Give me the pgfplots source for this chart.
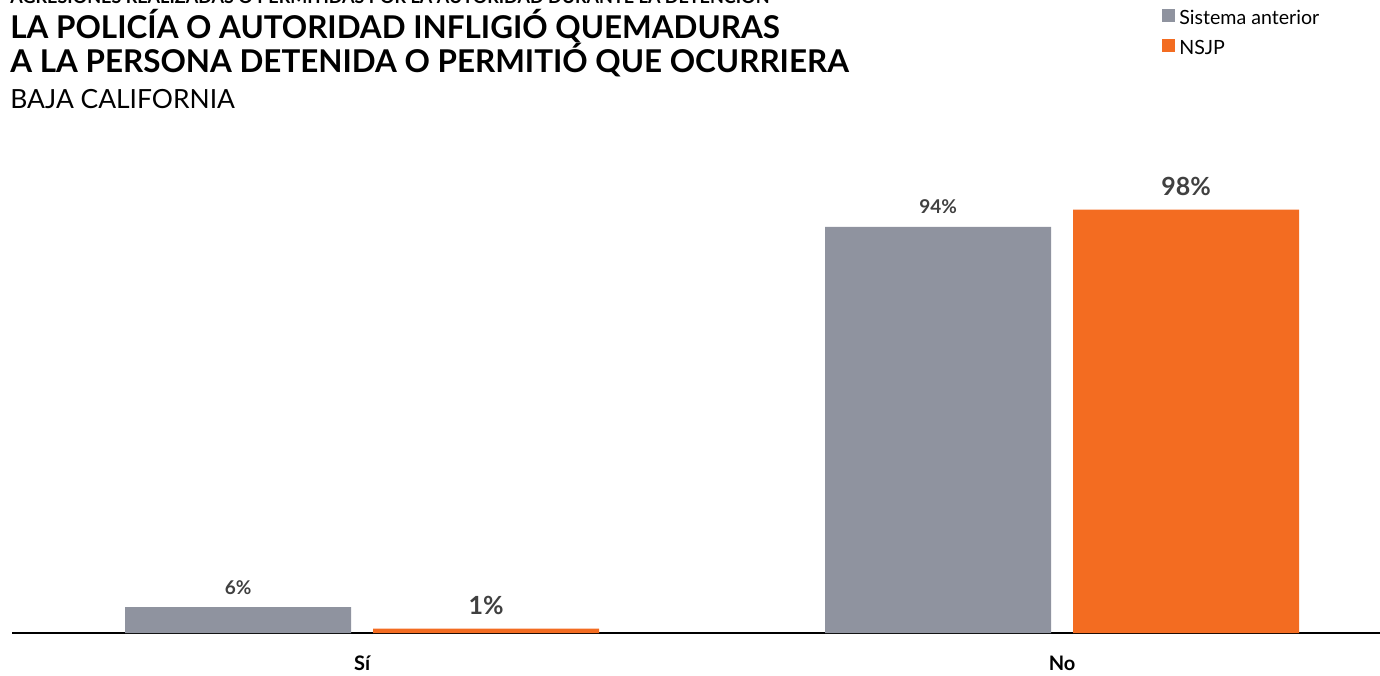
\documentclass[border=0pt]{standalone}
\usepackage{pgfplots}
\pgfplotsset{compat=1.18}
\usepackage{fontspec}
\setmainfont{Lato}
\definecolor{grisAnt}{HTML}{8F939F}
\definecolor{naranja}{HTML}{F36C21}
\definecolor{etiq}{HTML}{404040}

\begin{document}
\begin{tikzpicture}
\useasboundingbox (0,0) rectangle (690pt,337.5pt);
\clip (0,0) rectangle (690pt,337.5pt);

% titles (1px = 0.5pt)
\node[anchor=base west, inner sep=0, font=\fontsize{9}{10}\selectfont\bfseries]
  at (5pt,335.5pt) {AGRESIONES REALIZADAS O PERMITIDAS POR LA AUTORIDAD DURANTE LA DETENCIÓN};
\node[anchor=base west, inner sep=0, font=\fontsize{15.7}{18}\selectfont\bfseries]
  at (5pt,318.25pt) {LA POLICÍA O AUTORIDAD INFLIGIÓ QUEMADURAS};
\node[anchor=base west, inner sep=0, font=\fontsize{15.7}{18}\selectfont\bfseries]
  at (5pt,301pt) {A LA PERSONA DETENIDA O PERMITIÓ QUE OCURRIERA};
\node[anchor=base west, inner sep=0, font=\fontsize{13.2}{15}\selectfont]
  at (5pt,283pt) {BAJA CALIFORNIA};

\begin{axis}[
  at={(6pt,21pt)}, anchor=south west,
  scale only axis,
  width=684pt, height=216pt,
  xmin=-0.5, xmax=1.454,
  ymin=0, ymax=100,
  axis x line=bottom,
  axis y line=none,
  x axis line style={-, line width=1pt, black},
  xtick={0,1},
  xticklabels={Sí, No},
  major tick length=0pt,
  xticklabel style={font=\fontsize{10}{12}\selectfont\bfseries, black, yshift=-8pt},
  ytick=\empty,
  /pgf/number format/assume math mode=true,
  ybar,
  bar width=113pt,
  clip=false,
  legend style={at={(0.8406,1.4514)}, anchor=north west, draw=none, fill=none,
                font=\fontsize{9.8}{12}\selectfont, inner sep=0pt,
                legend cell align=left, row sep=2.5pt},
  legend image code/.code={\fill[#1] (0pt,-1.5pt) rectangle (6.5pt,5pt);},
]
\addplot[fill=grisAnt, draw=none, bar shift=-62pt,
  nodes near coords={\pgfmathprintnumber{\pgfplotspointmeta}\%},
  every node near coord/.append style={font=\fontsize{9.5}{11}\selectfont\bfseries,
    text=etiq, anchor=base, yshift=6.5pt}]
  coordinates {(0,6) (1,94)};
\addlegendentry{Sistema anterior}
\addplot[fill=naranja, draw=none, bar shift=62pt,
  nodes near coords={\pgfmathprintnumber{\pgfplotspointmeta}\%},
  every node near coord/.append style={font=\fontsize{12.5}{14}\selectfont\bfseries,
    text=etiq, anchor=base, yshift=7pt}]
  coordinates {(0,1) (1,98)};
\addlegendentry{NSJP}
\end{axis}
\end{tikzpicture}
\end{document}
